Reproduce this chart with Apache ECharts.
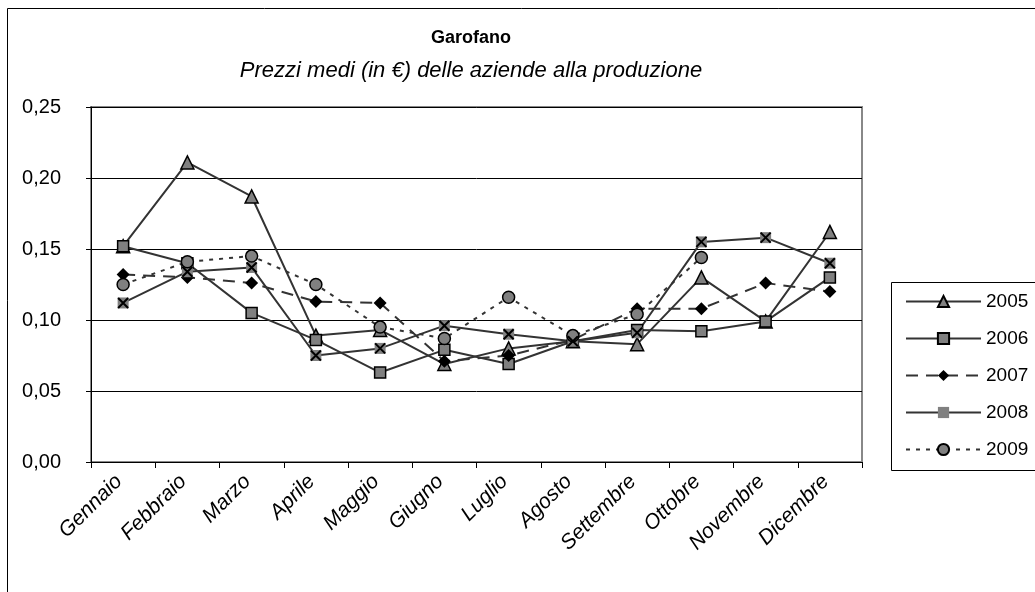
<!DOCTYPE html>
<html>
<head>
<meta charset="utf-8">
<script src="https://cdn.jsdelivr.net/npm/echarts@6/dist/echarts.min.js"></script>
<style>
html,body{margin:0;padding:0;background:#fff;}
#chart{width:1035px;height:592px;}
</style>
</head>
<body>
<div id="chart"></div>
<script>
var categories = ['Gennaio','Febbraio','Marzo','Aprile','Maggio','Giugno','Luglio','Agosto','Settembre','Ottobre','Novembre','Dicembre'];
var s2005 = [0.152, 0.211, 0.187, 0.089, 0.093, 0.069, 0.080, 0.085, 0.083, 0.130, 0.099, 0.162];
var s2006 = [0.152, 0.140, 0.105, 0.086, 0.063, 0.079, 0.069, 0.085, 0.093, 0.092, 0.099, 0.130];
var s2007 = [0.132, 0.130, 0.126, 0.113, 0.112, 0.071, 0.075, 0.086, 0.108, 0.108, 0.126, 0.120];
var s2008 = [0.112, 0.134, 0.137, 0.075, 0.080, 0.096, 0.090, 0.085, 0.091, 0.155, 0.158, 0.140];
var s2009 = [0.125, 0.141, 0.145, 0.125, 0.095, 0.087, 0.116, 0.089, 0.104, 0.144, null, null];
var seriesNames = ['2005','2006','2007','2008','2009'];
var yTicks = {min: 0, max: 0.25, interval: 0.05};
var titleText = 'Garofano';
var subtitleText = 'Prezzi medi (in €) delle aziende alla produzione';

var FONT = '"Liberation Sans", Arial, sans-serif';
var LINE = '#333333';
var FILL = '#808080';
var X_PATH = 'path://M0,0L10,10M10,0L0,10';

function base(name, data) {
  return {
    name: name, type: 'line', data: data, connectNulls: false,
    symbolSize: 10, showSymbol: true,
    lineStyle: {color: LINE, width: 2},
    itemStyle: {color: FILL, borderColor: '#000', borderWidth: 1.5},
    emphasis: {disabled: true}, animation: false
  };
}
var ser = [];
var a = base(seriesNames[0], s2005); a.symbol = 'triangle'; a.symbolSize = 13; ser.push(a);
var b = base(seriesNames[1], s2006); b.symbol = 'rect'; b.symbolSize = 11; ser.push(b);
var c = base(seriesNames[2], s2007); c.symbol = 'diamond'; c.symbolSize = 13;
c.lineStyle = {color: LINE, width: 2, type: [12, 8]}; c.itemStyle = {color: '#000', borderColor: '#000', borderWidth: 0}; ser.push(c);
var d = base(seriesNames[3], s2008); d.symbol = 'rect'; d.symbolSize = 11;
d.itemStyle = {color: FILL, borderWidth: 0}; ser.push(d);
var dx = base('2008x', s2008); dx.symbol = X_PATH; dx.symbolSize = 10; dx.z = 5;
dx.lineStyle = {opacity: 0, width: 0}; dx.itemStyle = {color: 'rgba(0,0,0,0)', borderColor: '#000', borderWidth: 2}; ser.push(dx);
var e = base(seriesNames[4], s2009); e.symbol = 'circle'; e.symbolSize = 12;
e.lineStyle = {color: LINE, width: 2, type: [4, 6]}; ser.push(e);

var chart = echarts.init(document.getElementById('chart'));
chart.setOption({
  backgroundColor: '#fff',
  animation: false,
  textStyle: {fontFamily: FONT},
  grid: {left: 91, right: 173, top: 107, bottom: 130, show: true, borderColor: '#888', borderWidth: 2, backgroundColor: '#fff'},
  legend: {
    data: seriesNames, orient: 'vertical', left: 905, top: 292,
    itemWidth: 75, itemHeight: 14, itemGap: 18, padding: 0,
    textStyle: {fontFamily: FONT, fontSize: 19, color: '#000'},
    selectedMode: false
  },
  xAxis: {
    type: 'category', data: categories, boundaryGap: true,
    axisLine: {lineStyle: {color: '#000', width: 1}},
    axisTick: {show: true, length: 6, interval: 0, lineStyle: {color: '#000'}},
    axisLabel: {rotate: 45, interval: 0, margin: 12, fontSize: 21, fontStyle: 'italic', color: '#000', fontFamily: FONT, padding: [0, 6, 0, 0]}
  },
  yAxis: {
    type: 'value', min: yTicks.min, max: yTicks.max, interval: yTicks.interval,
    axisLine: {show: true, lineStyle: {color: '#000', width: 1}},
    axisTick: {show: true, length: 5, lineStyle: {color: '#000'}},
    splitLine: {lineStyle: {color: '#000', width: 1}},
    axisLabel: {fontSize: 20, color: '#000', margin: 30, fontFamily: FONT,
      formatter: function (v) { return v.toFixed(2).replace('.', ','); }}
  },
  graphic: [
    {type: 'rect', silent: true, z: -10, shape: {x: 7.5, y: 8.5, width: 1100, height: 700}, style: {fill: 'none', stroke: '#000', lineWidth: 1}},
    {type: 'rect', silent: true, z: -5, shape: {x: 891.5, y: 282.5, width: 200, height: 188}, style: {fill: '#fff', stroke: '#000', lineWidth: 1}},
    {type: 'text', silent: true, x: 471, y: 38, style: {text: titleText, font: 'bold 18px ' + FONT, fill: '#000', align: 'center', verticalAlign: 'middle'}},
    {type: 'text', silent: true, x: 471, y: 71, style: {text: subtitleText, font: 'italic 22px ' + FONT, fill: '#000', align: 'center', verticalAlign: 'middle'}}
  ],
  series: ser
});
</script>
</body>
</html>
